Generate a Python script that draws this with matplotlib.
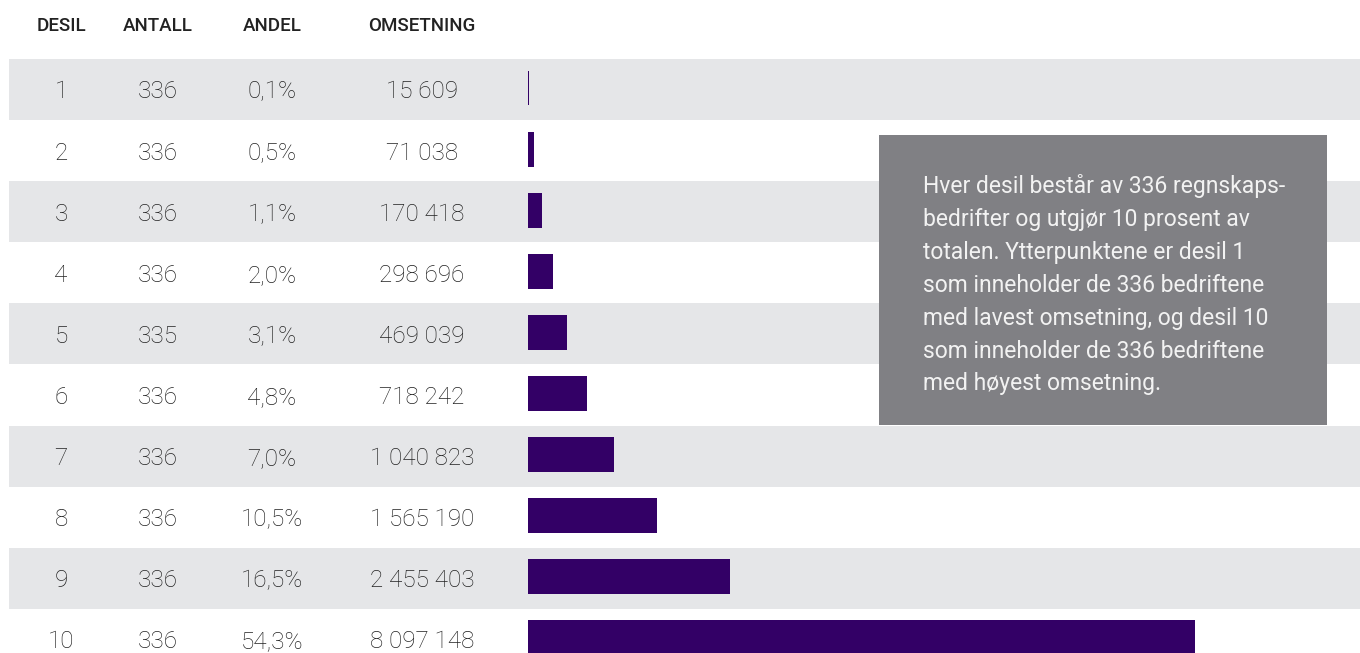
import matplotlib
matplotlib.use("Agg")
import matplotlib.pyplot as plt
from matplotlib.patches import Rectangle

plt.rcParams['font.family'] = ['Roboto', 'DejaVu Sans']

headers = ["DESIL", "ANTALL", "ANDEL", "OMSETNING"]
desil = [1, 2, 3, 4, 5, 6, 7, 8, 9, 10]
antall = [336, 336, 336, 336, 335, 336, 336, 336, 336, 336]
andel = ["0,1%", "0,5%", "1,1%", "2,0%", "3,1%", "4,8%", "7,0%", "10,5%", "16,5%", "54,3%"]
omsetning = [15609, 71038, 170418, 298696, 469039, 718242, 1040823, 1565190, 2455403, 8097148]
note = ("Hver desil består av 336 regnskaps-\n"
        "bedrifter og utgjør 10 prosent av\n"
        "totalen. Ytterpunktene er desil 1\n"
        "som inneholder de 336 bedriftene\n"
        "med lavest omsetning, og desil 10\n"
        "som inneholder de 336 bedriftene\n"
        "med høyest omsetning.")

W, H = 1360, 653
fig = plt.figure(figsize=(W / 100, H / 100), dpi=100)
fig.patch.set_facecolor("white")

row_px = 61.1
first_center = 89.5
ytop = 1 - first_center / row_px
ybot = 1 + (H - first_center) / row_px

ax = fig.add_axes([0, 0, 1, 1])
ax.set_xlim(0, W)
ax.set_ylim(ybot, ytop)
ax.axis("off")

band_color = "#E5E6E8"
text_color = "#222222"
for d in desil:
    if d % 2 == 1:
        ax.add_patch(Rectangle((9, d - 0.5), W - 9, 1.0, facecolor=band_color,
                               edgecolor="none", zorder=0))

col_x = [61, 158, 272, 422]
for x, h in zip(col_x, headers):
    fig.text(x / W, 1 - 26 / H, h, ha="center", va="center", fontsize=13.5,
             color=text_color, fontweight="medium")

text_off = 2.5 / row_px
for d, a, p, o in zip(desil, antall, andel, omsetning):
    vals = [str(d), str(a), p, f"{o:,}".replace(",", " ")]
    for x, v in zip(col_x, vals):
        ax.text(x, d + text_off, v, ha="center", va="center", fontsize=17.5,
                color=text_color, fontweight="light", zorder=3)

bx0, bx1 = 528, W
bar_end_px = 1195
xmax = omsetning[-1] * (bx1 - bx0) / (bar_end_px - bx0)
bax = fig.add_axes([bx0 / W, 0, (bx1 - bx0) / W, 1])
bax.set_xlim(0, xmax)
bax.set_ylim(ybot, ytop)
bax.axis("off")
bax.patch.set_alpha(0)
bax.barh([d - 1.5 / row_px for d in desil], omsetning, height=35 / row_px,
         color="#330066", zorder=2)

bx, by, bw, bh = 879, 135, 448, 290
fig.patches.append(Rectangle((bx / W, 1 - (by + bh) / H), bw / W, bh / H,
                             transform=fig.transFigure, facecolor="#808084",
                             edgecolor="none", zorder=5))
fig.text(923 / W, 1 - 174 / H, note, ha="left", va="top", fontsize=16.5,
         color="#F2F2F2", linespacing=1.55, zorder=6, fontweight="normal")

fig.savefig("out.png", dpi=100)
